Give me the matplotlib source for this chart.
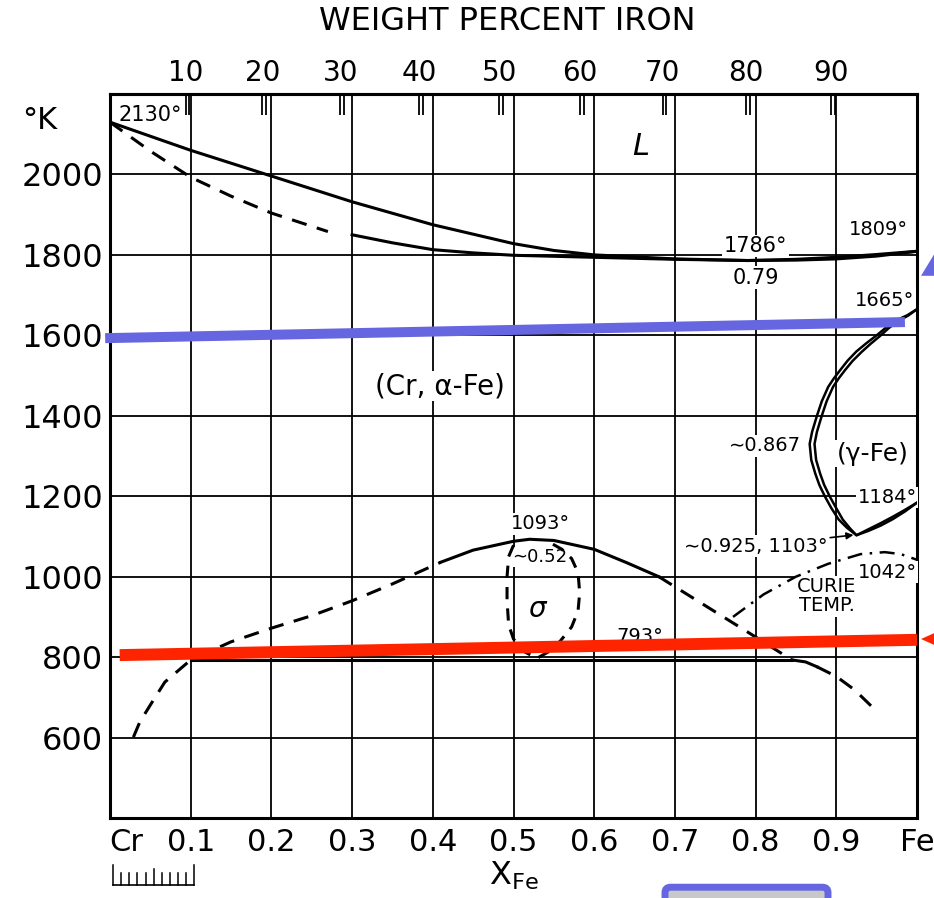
import numpy as np
import matplotlib
matplotlib.use("Agg")
import matplotlib.pyplot as plt
import matplotlib.transforms as mtransforms
from matplotlib.patches import Polygon, FancyBboxPatch

# Liquidus / Solidus
liq_x = [0.0, 0.1, 0.2, 0.3, 0.4, 0.5, 0.55, 0.6, 0.7, 0.79, 0.85, 0.9, 0.95, 1.0]
liq_T = [2130, 2060, 1996, 1932, 1875, 1828, 1811, 1800, 1790, 1786, 1789, 1794, 1801, 1809]
sol_dash_x = [0.0, 0.05, 0.1, 0.15, 0.2, 0.27]
sol_dash_T = [2130, 2058, 1993, 1946, 1904, 1858]
sol_x = [0.3, 0.35, 0.4, 0.45, 0.5, 0.6, 0.7, 0.79, 0.85, 0.9, 0.95, 1.0]
sol_T = [1850, 1830, 1813, 1805, 1799, 1794, 1789, 1786, 1787, 1790, 1797, 1809]

# gamma-Schleife (zwei Linien)
gam_out_x = [1.0, 0.988, 0.975, 0.962, 0.95, 0.937, 0.925, 0.914, 0.905, 0.897, 0.89, 0.882,
             0.876, 0.870, 0.867, 0.869, 0.874, 0.879, 0.886, 0.894, 0.903, 0.913, 0.925,
             0.94, 0.955, 0.97, 0.985, 1.0]
gam_out_T = [1665, 1650, 1638, 1620, 1600, 1580, 1560, 1537, 1514, 1493, 1472, 1436,
             1400, 1360, 1330, 1290, 1256, 1228, 1199, 1170, 1142, 1122, 1103,
             1114, 1127, 1143, 1162, 1184]
gam_in_x = [1.0, 0.989, 0.977, 0.965, 0.954, 0.942, 0.931, 0.92, 0.911, 0.903, 0.896, 0.888,
            0.882, 0.876, 0.873, 0.875, 0.880, 0.885, 0.892, 0.900, 0.908, 0.917, 0.925,
            0.94, 0.955, 0.97, 0.985, 1.0]
gam_in_T = [1665, 1649, 1636, 1618, 1598, 1578, 1558, 1536, 1514, 1493, 1472, 1436,
            1400, 1360, 1330, 1290, 1256, 1228, 1199, 1170, 1142, 1120, 1103,
            1118, 1133, 1149, 1166, 1184]

# sigma-Bereich / Entmischung
dome_l_x = [0.029, 0.037, 0.05, 0.068, 0.1, 0.15, 0.2, 0.25, 0.3, 0.35, 0.41]
dome_l_T = [601, 639, 681, 738, 793, 838, 872, 903, 940, 982, 1036]
dome_x = [0.41, 0.45, 0.5, 0.52, 0.55, 0.6, 0.64, 0.68]
dome_T = [1036, 1066, 1088, 1093, 1090, 1068, 1035, 1000]
dome_r_x = [0.68, 0.72, 0.76, 0.80, 0.845]
dome_r_T = [1000, 950, 900, 850, 793]
bend_x = [0.845, 0.862, 0.876]
bend_T = [793, 788, 776]
tail_x = [0.876, 0.9, 0.923, 0.945]
tail_T = [776, 752, 718, 675]
eut_x = [0.1, 0.845]
eut_T = [793, 793]
sig_x = [0.50, 0.494, 0.492, 0.492, 0.494, 0.50, 0.512, 0.529, 0.545, 0.558, 0.572, 0.58, 0.582, 0.58, 0.572, 0.56, 0.545]
sig_T = [1078, 1050, 1000, 940, 880, 845, 815, 797, 815, 840, 875, 915, 960, 1010, 1045, 1068, 1085]

# Curie-Temperatur
curie_x = [0.772, 0.81, 0.85, 0.89, 0.93, 0.96, 0.98, 1.0]
curie_T = [900, 956, 1000, 1032, 1056, 1061, 1056, 1042]

# Achsen
x_ticks = [0, 0.1, 0.2, 0.3, 0.4, 0.5, 0.6, 0.7, 0.8, 0.9, 1.0]
x_labels = ["Cr", "0.1", "0.2", "0.3", "0.4", "0.5", "0.6", "0.7", "0.8", "0.9", "Fe"]
y_ticks = [600, 800, 1000, 1200, 1400, 1600, 1800, 2000]
wt_pct = [10, 20, 30, 40, 50, 60, 70, 80, 90]
M_Fe, M_Cr = 55.845, 51.996

# Markierungen (blau / rot)
blue_x = [-0.006, 0.985]
blue_T = [1593, 1633]
red_x = [0.012, 1.0]
red_T = [805, 843]
red_head = [(1.005, 845), (1.035, 872), (1.035, 818)]
blue_head = [(1.005, 1748), (1.035, 1847), (1.035, 1748)]

fig = plt.figure(figsize=(9.34, 8.98), dpi=100)
ax = fig.add_axes([110/934, 80/898, 807/934, 724/898])
ax.set_xlim(0, 1)
ax.set_ylim(400, 2200)

ax.set_xticks(x_ticks)
ax.set_xticklabels(x_labels, fontsize=22)
ax.set_yticks(y_ticks)
ax.set_yticklabels([str(t) for t in y_ticks], fontsize=23)
ax.tick_params(axis="x", length=0, pad=7)
ax.tick_params(axis="y", length=0, pad=5)
cr = ax.get_xticklabels()[0]
cr.set_transform(cr.get_transform() + mtransforms.ScaledTranslation(12/72, 0, fig.dpi_scale_trans))
ax.set_axisbelow(True)
ax.grid(True, color="k", lw=1.3)
for s in ax.spines.values():
    s.set_linewidth(2.2)

# Gewichtsprozent oben
wt = np.array(wt_pct) / 100.0
wt_x = (wt / M_Fe) / (wt / M_Fe + (1 - wt) / M_Cr)
sec = ax.secondary_xaxis("top")
sec.set_xticks(wt_x, labels=[str(w) for w in wt_pct])
sec.set_xticks(wt_x + 0.0045, minor=True)
sec.tick_params(which="both", direction="in", length=15, width=1.3)
sec.tick_params(which="major", labelsize=20, pad=5)
sec.spines["top"].set_linewidth(2.2)

lw = 2.2
dash = (0, (5, 3.5))
ax.plot(liq_x, liq_T, "k-", lw=lw, zorder=4)
ax.plot(sol_dash_x, sol_dash_T, "k", ls=dash, lw=lw, zorder=4)
ax.plot(sol_x, sol_T, "k-", lw=lw, zorder=4)
ax.plot(gam_out_x, gam_out_T, "k-", lw=1.8, zorder=4)
ax.plot(gam_in_x, gam_in_T, "k-", lw=1.8, zorder=4)
ax.plot(dome_l_x, dome_l_T, "k", ls=dash, lw=lw, zorder=4)
ax.plot(dome_x, dome_T, "k-", lw=lw, zorder=4)
ax.plot(dome_r_x, dome_r_T, "k", ls=dash, lw=lw, zorder=4)
ax.plot(bend_x, bend_T, "k-", lw=lw, zorder=4)
ax.plot(tail_x, tail_T, "k", ls=dash, lw=lw, zorder=4)
ax.plot(eut_x, eut_T, "k-", lw=lw, zorder=4)
ax.plot(sig_x, sig_T, "k", ls=(0, (4, 3)), lw=lw, zorder=4)
ax.plot(curie_x, curie_T, "k", ls=(0, (6, 3, 1, 3)), lw=1.8, zorder=4)

box = dict(fc="white", ec="none", pad=1)
def label(x, y, s, size=14, **kw):
    ax.text(x, y, s, fontsize=size, ha="center", va="center", bbox=box,
            zorder=3, clip_on=False, **kw)

label(0.05, 2148, "2130°", 15)
label(0.657, 2069, "L", 22, style="italic")
label(0.80, 1822, "1786°", 15)
label(0.80, 1743, "0.79", 15)
label(0.952, 1864, "1809°", 14)
label(0.96, 1687, "1665°", 14)
label(0.409, 1474, "(Cr, α-Fe)", 20)
label(0.812, 1325, "∼0.867", 14)
label(0.945, 1305, "(γ-Fe)", 18)
label(0.963, 1197, "1184°", 14)
label(0.533, 1131, "1093°", 14)
label(0.533, 1049, "∼0.52", 13)
label(0.529, 920, "σ", 20, style="italic")
label(0.657, 850, "793°", 14)
label(0.963, 1011, "1042°", 14)
label(0.888, 951, "CURIE\nTEMP.", 14, linespacing=1.0)
ax.annotate("∼0.925, 1103°", xy=(0.923, 1104), xytext=(0.80, 1076),
            fontsize=14, ha="center", va="center", bbox=box, zorder=3,
            arrowprops=dict(arrowstyle="-|>", color="k", lw=1.2,
                            shrinkA=1, shrinkB=1, mutation_scale=10))

# Massstab unter Cr
trans = mtransforms.blended_transform_factory(ax.transData, ax.transAxes)
rx = np.linspace(0, 0.1, 11)
ax.plot([0.004, 0.104], [-0.0925, -0.0925], "k-", lw=1.2, transform=trans, clip_on=False)
for i, xx in enumerate(rx):
    top = -0.065 if i in (0, 10) else (-0.071 if i == 5 else -0.076)
    ax.plot([xx + 0.004, xx + 0.004], [-0.0925, top], "k-", lw=1.1, transform=trans, clip_on=False)

ax.set_xlabel(r"X$_{\mathrm{Fe}}$", fontsize=23, labelpad=2)
fig.text(40/934, 1 - 120/898, "°K", fontsize=22, ha="center", va="center")
fig.text(507/934, 1 - 22/898, "WEIGHT PERCENT IRON", fontsize=23, ha="center", va="center")

# blaue und rote Markierungen
ax.plot(blue_x, blue_T, color="#6666E0", lw=7.2, solid_capstyle="butt", zorder=10, clip_on=False)
ax.plot(red_x, red_T, color="#FF2400", lw=8.6, solid_capstyle="butt", zorder=10, clip_on=False)
ax.add_patch(Polygon(red_head, closed=True, fc="#FF2400", ec="none", zorder=10, clip_on=False))
ax.add_patch(Polygon(blue_head, closed=True, fc="#6666E0", ec="none", zorder=10, clip_on=False))
fig.add_artist(FancyBboxPatch((665/934, -0.02), 163/934, 0.032,
                              boxstyle="round,pad=0,rounding_size=0.006",
                              fc="#C8C8C8", ec="#6666E0", lw=5, transform=fig.transFigure))

fig.savefig("out.png", dpi=100)
